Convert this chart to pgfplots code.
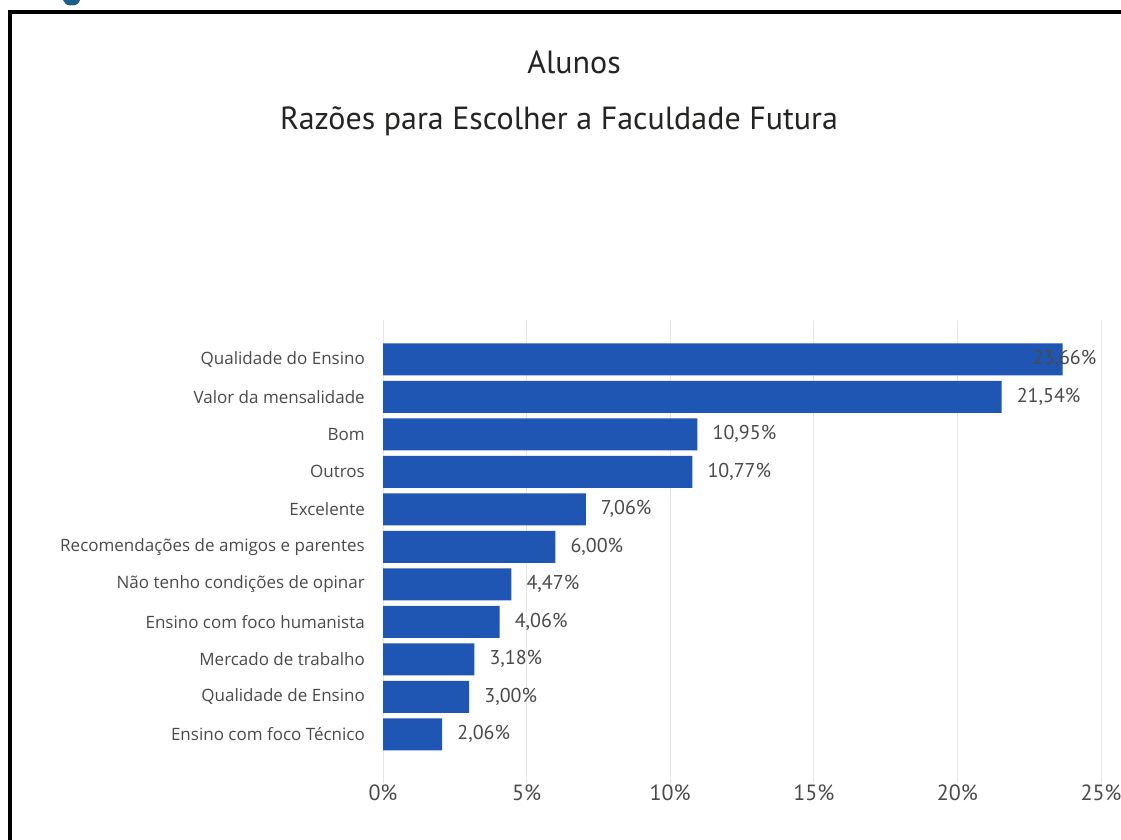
\documentclass[border=0pt]{standalone}
\usepackage{pgfplots}
\pgfplotsset{compat=1.18}
\usepackage{pgfplotstable}
\usepackage{fontspec}
\setmainfont{Open Sans}
\newfontfamily\dinfont{PT Sans}
\definecolor{barblue}{HTML}{1F56B3}
\definecolor{logoblue}{HTML}{1B5E8C}
\definecolor{titlecol}{HTML}{252423}
\definecolor{labcol}{HTML}{4A4A4A}
\definecolor{gridcol}{HTML}{E6E6E6}
\pgfplotstableread{
idx val off
10 23.66 -30
9 21.54 15
8 10.95 15
7 10.77 15
6 7.06 15
5 6.00 15
4 4.47 15
3 4.06 15
2 3.18 15
1 3.00 15
0 2.06 15
}\datatab
\begin{document}
\begin{tikzpicture}
\useasboundingbox (0,0) rectangle (1121pt,840pt);
\fill[white] (0,0) rectangle (1121pt,840pt);
% logo fragment
\fill[logoblue] (63pt,840pt) -- (80pt,840pt) .. controls (79pt,836pt) and (76pt,834pt) .. (70pt,834.5pt) .. controls (66pt,835pt) and (64pt,837pt) .. cycle;
% frame
\draw[line width=4.5pt] (10pt,-20pt) -- (10pt,828pt) -- (1140pt,828pt);
% titles
\node[font=\dinfont\fontsize{32}{36}\selectfont, text=titlecol] at (574pt,778pt) {Alunos};
\node[font=\dinfont\fontsize{32}{36}\selectfont, text=titlecol] at (559pt,719pt) {Razões para Escolher a Faculdade Futura};
\begin{axis}[
  at={(383pt,57pt)}, anchor=south west,
  width=718pt, height=463pt, scale only axis,
  xbar, bar width=32pt,
  xmin=0, xmax=25, ymin=-1.3, ymax=11.05,
  axis line style={draw=none},
  major tick length=0pt,
  xmajorgrids, grid style={gridcol, line width=1pt},
  xtick={0,5,10,15,20,25},
  xticklabel={\pgfmathprintnumber{\tick}\%},
  xticklabel style={font=\dinfont\fontsize{22}{24}\selectfont, text=labcol, anchor=center, yshift=-10pt},
  ytick={0,...,10},
  yticklabels={Ensino com foco Técnico, Qualidade de Ensino, Mercado de trabalho, Ensino com foco humanista, Não tenho condições de opinar, Recomendações de amigos e parentes, Excelente, Outros, Bom, Valor da mensalidade, Qualidade do Ensino},
  yticklabel style={font=\fontsize{17}{20}\selectfont, text=labcol, anchor=east, inner sep=0pt, xshift=-18pt},
  /pgf/number format/assume math mode=true,
  point meta=x,
  visualization depends on={\thisrow{off} \as \off},
  nodes near coords={\pgfmathprintnumber[fixed,fixed zerofill,precision=2,use comma]{\pgfplotspointmeta}\%},
  nodes near coords style={font=\dinfont\fontsize{20}{22}\selectfont, text=labcol, anchor=west, inner sep=0pt, xshift=\off pt},
  clip=false,
]
\addplot[fill=barblue, draw=none] table[x=val, y=idx] {\datatab};
\end{axis}
\end{tikzpicture}
\end{document}
